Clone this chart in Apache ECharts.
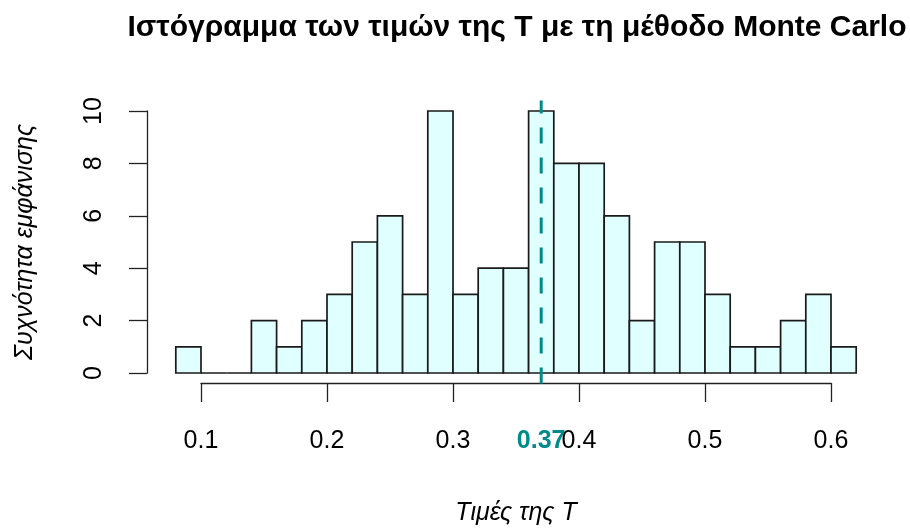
<!DOCTYPE html>
<html>
<head>
<meta charset="utf-8">
<title>Ιστόγραμμα των τιμών της T</title>
<script src="https://cdn.jsdelivr.net/npm/echarts@6/dist/echarts.min.js"></script>
<style>
  html, body { margin: 0; padding: 0; background: #ffffff; }
  #chart { width: 910px; height: 529px; }
</style>
</head>
<body>
<div id="chart"></div>
<script>
// Histogram bins (width 0.02) and their counts
var binStarts = [0.08, 0.10, 0.12, 0.14, 0.16, 0.18, 0.20, 0.22, 0.24, 0.26, 0.28, 0.30, 0.32, 0.34,
                 0.36, 0.38, 0.40, 0.42, 0.44, 0.46, 0.48, 0.50, 0.52, 0.54, 0.56, 0.58, 0.60];
var binWidth = 0.02;
var counts = [1, 0, 0, 2, 1, 2, 3, 5, 6, 3, 10, 3, 4, 4,
              10, 8, 8, 6, 2, 5, 5, 3, 1, 1, 2, 3, 1];

// Mean of T, marked with a dashed line
var meanT = 0.37;
var meanLabel = '0.37';

// Axis ticks
var xTicks = [0.1, 0.2, 0.3, 0.4, 0.5, 0.6];
var yTicks = [0, 2, 4, 6, 8, 10];

var titleText = 'Ιστόγραμμα των τιμών της T με τη μέθοδο Monte Carlo';
var xName = 'Τιμές της T';
var yName = 'Συχνότητα εμφάνισης';

var FONT = '"Liberation Sans", Arial, Helvetica, sans-serif';
var TEAL = '#008b8b';
var AXIS_COLOR = '#222';

// Plot region in R style extends 4% beyond the data range
var yMax = yTicks[yTicks.length - 1];
var yPad = 0.04 * yMax;

var histData = binStarts.map(function (s, i) { return [s, s + binWidth, counts[i]]; });

var chart = echarts.init(document.getElementById('chart'), null, { renderer: 'canvas' });

chart.setOption({
  backgroundColor: '#ffffff',
  animation: false,
  title: {
    text: titleText,
    left: 512,
    top: 8,
    textAlign: 'center',
    textStyle: { fontFamily: FONT, fontWeight: 'bold', fontSize: 30, color: '#000' }
  },
  grid: { left: 201, right: 79, top: 111, bottom: 156, containLabel: false },
  xAxis: [{
    type: 'value',
    position: 'bottom',
    min: xTicks[0],
    max: xTicks[xTicks.length - 1],
    interval: 0.1,
    offset: 10,
    name: xName,
    nameLocation: 'middle',
    nameGap: 118,
    nameTextStyle: { fontFamily: FONT, fontStyle: 'italic', fontSize: 25, color: '#000' },
    axisLine: { show: true, onZero: false, lineStyle: { color: AXIS_COLOR, width: 1.3 } },
    axisTick: { show: true, inside: false, length: 19, lineStyle: { color: AXIS_COLOR, width: 1.3 } },
    axisLabel: {
      margin: 46, fontFamily: FONT, fontSize: 25, color: '#000',
      formatter: function (v) { return String(Math.round(v * 10) / 10); }
    },
    splitLine: { show: false }
  }, {
    // Axis carrying only the mean label
    type: 'value',
    position: 'bottom',
    min: xTicks[0],
    max: xTicks[xTicks.length - 1],
    offset: 10,
    axisLine: { show: false, onZero: false },
    axisTick: { show: false },
    splitLine: { show: false },
    axisLabel: {
      customValues: [meanT],
      margin: 46, fontFamily: FONT, fontSize: 25, fontWeight: 'bold', color: TEAL,
      formatter: function () { return meanLabel; }
    }
  }],
  yAxis: {
    type: 'value',
    min: yTicks[0],
    max: yMax,
    interval: 2,
    offset: 54,
    name: yName,
    nameLocation: 'middle',
    nameRotate: 90,
    nameGap: 109,
    nameTextStyle: { fontFamily: FONT, fontStyle: 'italic', fontSize: 25, color: '#000' },
    axisLine: { show: true, onZero: false, lineStyle: { color: AXIS_COLOR, width: 1.3 } },
    axisTick: { show: true, inside: false, length: 18, lineStyle: { color: AXIS_COLOR, width: 1.3 } },
    axisLabel: { rotate: 90, margin: 40, fontFamily: FONT, fontSize: 25, color: '#000' },
    splitLine: { show: false }
  },
  series: [{
    type: 'custom',
    clip: false,
    data: histData,
    renderItem: function (params, api) {
      var p0 = api.coord([api.value(0), api.value(2)]);
      var p1 = api.coord([api.value(1), 0]);
      return {
        type: 'polygon',
        shape: { points: [[p0[0], p1[1]], [p0[0], p0[1]], [p1[0], p0[1]], [p1[0], p1[1]]] },
        style: { fill: '#e0ffff', stroke: '#1a1a1a', lineWidth: 1.7 }
      };
    }
  }, {
    type: 'line',
    clip: false,
    symbol: 'none',
    silent: true,
    data: [[meanT, -yPad], [meanT, yMax + yPad]],
    lineStyle: { color: TEAL, width: 3, type: [16, 14] },
    z: 5
  }]
});
</script>
</body>
</html>
